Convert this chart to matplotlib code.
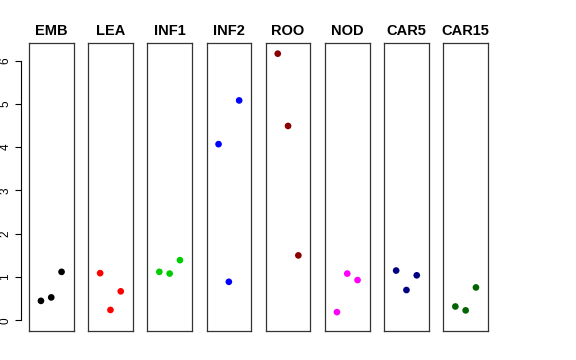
import matplotlib
matplotlib.use("Agg")
import matplotlib.pyplot as plt

plt.rcParams["font.family"] = ["Liberation Sans", "DejaVu Sans"]

# categories and values (x positions 1, 2, 3 in each panel)
groups = ["EMB", "LEA", "INF1", "INF2", "ROO", "NOD", "CAR5", "CAR15"]
colors = ["black", "#FF0000", "#00CD00", "#0000FF", "#8B0000", "#FF00FF", "#000080", "#006400"]
emb   = [0.45, 0.53, 1.12]
lea   = [1.09, 0.24, 0.67]
inf1  = [1.12, 1.08, 1.39]
inf2  = [4.07, 0.89, 5.08]
roo   = [6.16, 4.49, 1.50]
nod   = [0.19, 1.08, 0.93]
car5  = [1.15, 0.70, 1.04]
car15 = [0.32, 0.23, 0.76]
values = [emb, lea, inf1, inf2, roo, nod, car5, car15]
x_pos = [1, 2, 3]
y_ticks = [0, 1, 2, 3, 4, 5, 6]

W, H = 576, 360
LEFT0 = 29
STEP = 59.2
PW = 44.5
BOT = 29
PH = 288

ymax = max(max(v) for v in values)
ylim = (0 - 0.04 * ymax, ymax * 1.04)
xlim = (-0.16, 4.16)

fig = plt.figure(figsize=(W / 100, H / 100), dpi=100)

for i, (name, vals, col) in enumerate(zip(groups, values, colors)):
    ax = fig.add_axes([(LEFT0 + STEP * i) / W, BOT / H, PW / W, PH / H])
    ax.scatter(x_pos, vals, s=23, color=col, edgecolors="none", zorder=3)
    ax.set_xlim(*xlim)
    ax.set_ylim(*ylim)
    ax.set_xticks([])
    ax.set_yticks([])
    for sp in ax.spines.values():
        sp.set_color("#333333")
        sp.set_linewidth(0.9)
    ax.set_title(name, fontsize=10.5, fontweight="bold", pad=6)

# R-style y axis on the left of the first panel
yax = fig.add_axes([(LEFT0 - 8) / W, BOT / H, 1 / W, PH / H])
yax.set_ylim(*ylim)
yax.set_xticks([])
for k in ("top", "right", "bottom"):
    yax.spines[k].set_visible(False)
yax.patch.set_visible(False)
yax.spines["left"].set_bounds(0, 6)
yax.spines["left"].set_linewidth(0.8)
yax.set_yticks(y_ticks)
yax.set_yticklabels([str(t) for t in y_ticks], rotation=90, va="center", fontsize=8.5)
yax.tick_params(axis="y", length=4, width=0.8, pad=3)

fig.savefig("out.png", dpi=100)
